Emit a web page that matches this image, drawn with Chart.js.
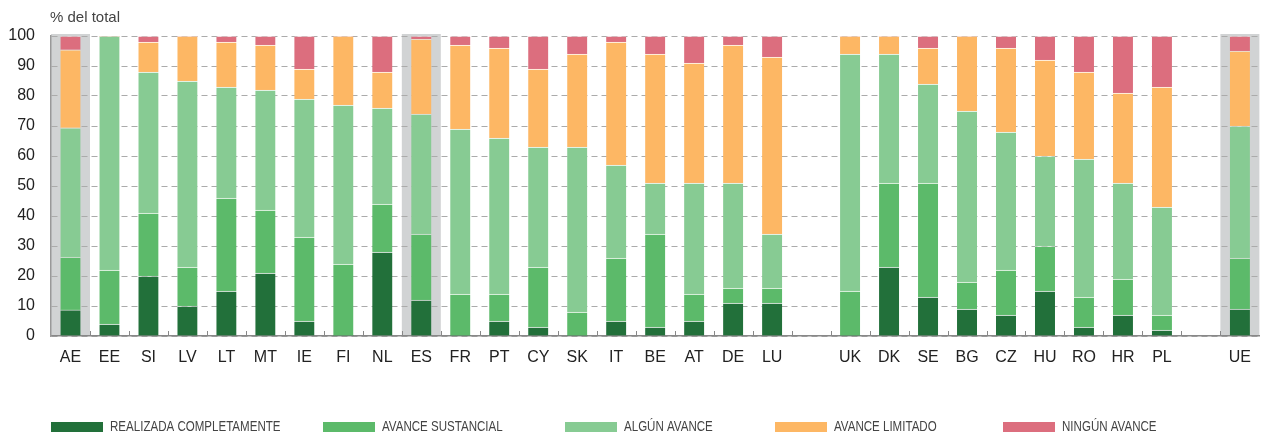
<!DOCTYPE html>
<html>
<head>
<meta charset="utf-8">
<script src="https://cdn.jsdelivr.net/npm/chart.js@4"></script>
<style>
  html, body { margin: 0; padding: 0; background: #fff; }
  #wrap { width: 1263px; height: 435px; position: relative; }
</style>
</head>
<body>
<div id="wrap"><canvas id="c"></canvas></div>
<script>
// ---- data ----
const categories = ['AE','EE','SI','LV','LT','MT','IE','FI','NL','ES','FR','PT','CY','SK','IT','BE','AT','DE','LU','','UK','DK','SE','BG','CZ','HU','RO','HR','PL','','UE'];
const highlighted = ['AE','ES','UE'];
const seriesNames = ['REALIZADA COMPLETAMENTE','AVANCE SUSTANCIAL','ALGÚN AVANCE','AVANCE LIMITADO','NINGÚN AVANCE'];
const realizada  = [8.7, 4,20,10,15,21, 5, 0,28,12, 0, 5, 3, 0, 5, 3, 5,11,11,null, 0,23,13, 9, 7,15, 3, 7, 2,null, 9];
const sustancial = [17.6,18,21,13,31,21,28,24,16,22,14, 9,20, 8,21,31, 9, 5, 5,null,15,28,38, 9,15,15,10,12, 5,null,17];
const algun      = [43.1,78,47,62,37,40,46,53,32,40,55,52,40,55,31,17,37,35,18,null,79,43,33,57,46,30,46,32,36,null,44];
const limitado   = [26, 0,10,15,15,15,10,23,12,25,28,30,26,31,41,43,40,46,59,null, 6, 6,12,25,28,32,29,30,40,null,25];
const ningun     = [4.6, 0, 2, 0, 2, 3,11, 0,12, 1, 3, 4,11, 6, 2, 6, 9, 3, 7,null, 0, 0, 4, 0, 4, 8,12,19,17,null, 5];
const yTicks = [0,10,20,30,40,50,60,70,80,90,100];

const colors = ['#22703a','#5cba6a','#87cb93','#fdb764','#dc6e7e'];
const seriesValues = [realizada, sustancial, algun, limitado, ningun];

const FONT = '"Liberation Sans", Arial, Helvetica, sans-serif';

const datasets = seriesValues.map((vals, i) => ({
  label: seriesNames[i],
  data: vals,
  backgroundColor: colors[i],
  borderColor: 'rgba(255,255,255,0.45)',
  borderWidth: ctx => (ctx.raw ? {top: 1, bottom: 0, left: 0, right: 0} : 0),
  borderSkipped: false,
  barThickness: 20,
  stack: 's'
}));

const bandPlugin = {
  id: 'bands',
  beforeDraw(chart) {
    const {ctx, chartArea, scales: {x}} = chart;
    const w = (chartArea.right - chartArea.left) / categories.length;
    ctx.save();
    ctx.fillStyle = '#d1d3d4';
    categories.forEach((c, i) => {
      if (highlighted.includes(c)) {
        const cx = x.getPixelForValue(i);
        ctx.fillRect(cx - w / 2, chartArea.top - 2, w, chartArea.bottom - chartArea.top + 2);
      }
    });
    ctx.restore();
  },
  afterDraw(chart) {
    const {ctx, chartArea, scales: {x}} = chart;
    const w = (chartArea.right - chartArea.left) / categories.length;
    ctx.save();
    // small tick marks at category boundaries
    ctx.strokeStyle = '#888';
    ctx.lineWidth = 1;
    for (let i = 1; i < categories.length; i++) {
      const bx = Math.round(x.getPixelForValue(i) - w / 2) + 0.5;
      ctx.beginPath();
      ctx.moveTo(bx, chartArea.bottom - 5);
      ctx.lineTo(bx, chartArea.bottom);
      ctx.stroke();
    }
    // unit label
    ctx.fillStyle = '#444';
    ctx.font = '15px ' + FONT;
    ctx.textAlign = 'left';
    ctx.textBaseline = 'alphabetic';
    ctx.fillText('% del total', chartArea.left - 1, 22);
    // legend (condensed text)
    const xs = [51, 323, 565, 775, 1003];
    ctx.font = '14px ' + FONT;
    ctx.textBaseline = 'middle';
    const sx = 0.825;
    chart.data.datasets.forEach((ds, i) => {
      ctx.fillStyle = ds.backgroundColor;
      ctx.fillRect(xs[i], 422, 52, 10);
      ctx.fillStyle = '#444';
      ctx.save();
      ctx.translate(xs[i] + 59, 427.5);
      ctx.scale(sx, 1);
      ctx.fillText(ds.label, 0, 0);
      ctx.restore();
    });
    ctx.restore();
  }
};

new Chart(document.getElementById('c'), {
  type: 'bar',
  data: { labels: categories, datasets },
  options: {
    responsive: true,
    maintainAspectRatio: false,
    animation: false,
    layout: { padding: { top: 36, left: 0, right: 0, bottom: 0 } },
    plugins: { legend: { display: false }, tooltip: { enabled: false }, title: { display: false } },
    scales: {
      x: {
        stacked: true,
        offset: true,
        grid: { display: false, drawTicks: false },
        border: { display: true, color: '#888', width: 1.5 },
        ticks: { color: '#222', font: { family: FONT, size: 16 }, padding: 12, autoSkip: false, maxRotation: 0 },
        afterFit(s) { s.height = 99; }
      },
      y: {
        stacked: true,
        min: 0, max: 100,
        afterBuildTicks(s) { s.ticks = yTicks.map(v => ({ value: v })); },
        grid: { color: '#ababab', lineWidth: 1, drawTicks: false },
        border: { display: true, color: '#999', width: 1.5, dash: [6, 4] },
        ticks: { color: '#222', font: { family: FONT, size: 16 }, padding: 16 },
        afterFit(s) { s.width = 51; }
      }
    }
  },
  plugins: [bandPlugin]
});
</script>
</body>
</html>
